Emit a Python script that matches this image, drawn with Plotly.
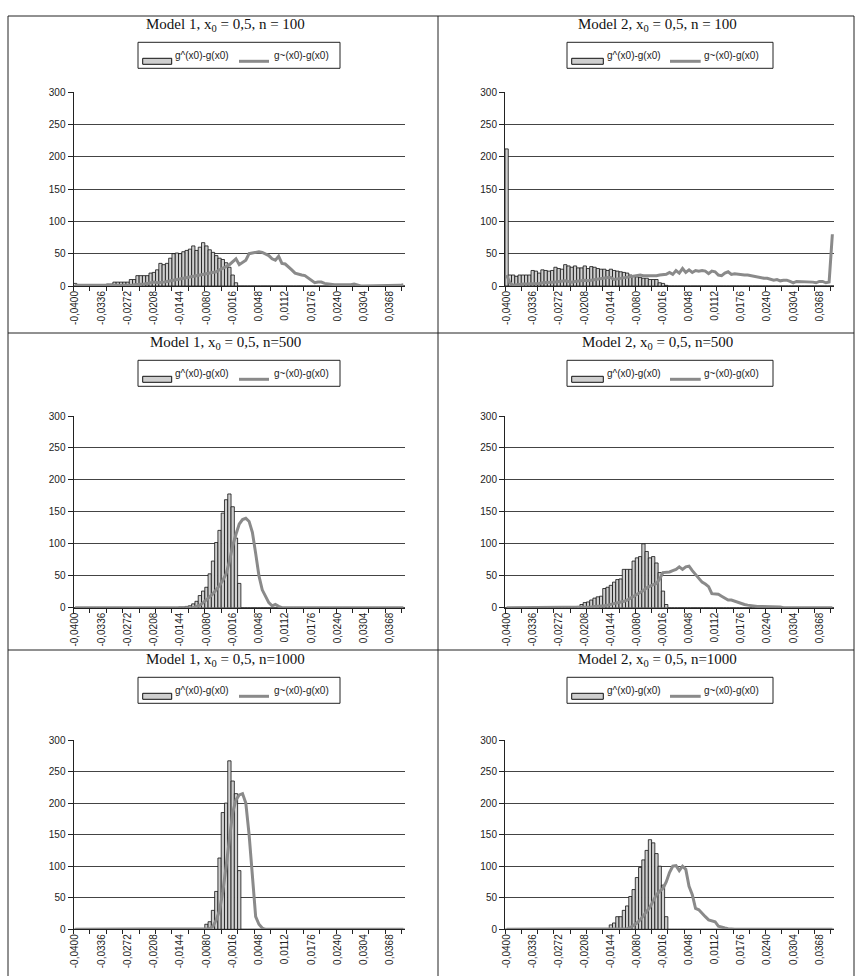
import plotly.graph_objects as go

W, H = 855, 976

# ---------------- data ----------------
categories = [round(-0.04 + 0.0008 * i, 4) for i in range(101)]
tick_values = [-0.04, -0.0336, -0.0272, -0.0208, -0.0144, -0.008, -0.0016,
               0.0048, 0.0112, 0.0176, 0.024, 0.0304, 0.0368]
tick_labels = ["-0,0400", "-0,0336", "-0,0272", "-0,0208", "-0,0144", "-0,0080", "-0,0016",
               "0,0048", "0,0112", "0,0176", "0,0240", "0,0304", "0,0368"]
mark_values = [round(-0.0404 + 0.004 * k, 4) for k in range(21)]

m1_n100_hat = ([4, 1, 1, 1, 1, 1, 1, 1, 1, 1,
                3, 3, 6, 6, 6, 6, 6, 10, 10, 16,
                16, 16, 16, 20, 21, 25, 35, 33, 35, 43,
                50, 51, 50, 53, 55, 57, 62, 55, 60, 67,
                62, 56, 52, 47, 43, 41, 36, 29, 17, 5] + [0] * 51)
m1_n100_til = ([1, 1, 0, 0, 0, 0, 0, 0, 0, 0,
                0, 0, 0, 0, 0, 1, 1, 1, 2, 2,
                3, 3, 4, 5, 6, 5, 5, 6, 7, 8,
                9, 9, 10, 11, 12, 13, 14, 15, 16, 17,
                18, 19, 20, 22, 25, 27, 30, 33, 37, 42,
                33, 36, 40, 50, 51, 53, 53, 52, 50, 47,
                42, 40, 46, 35, 34, 30, 25, 20, 18, 17,
                16, 12, 9, 5, 6, 6, 4, 3, 2, 2,
                2, 2, 2, 1, 2, 3, 1, 0, 0, 0,
                0, 0, 0, 0, 0, 0, 0, 0, 0, 1, 2])

m2_n100_hat = ([212, 17, 17, 15, 17, 17, 17, 17, 24, 23,
                20, 25, 24, 23, 24, 29, 27, 26, 33, 31,
                29, 31, 28, 28, 31, 27, 30, 29, 27, 26,
                26, 24, 26, 24, 23, 22, 21, 20, 17, 16,
                14, 13, 12, 12, 10, 10, 10, 5, 4, 1] + [0] * 51)
m2_n100_til = [17, 5, 1, 2, 3, 3, 3, 3, 4, 4,
               4, 5, 5, 6, 6, 6, 7, 8, 8, 7,
               6, 7, 8, 8, 9, 8, 9, 10, 10, 11,
               12, 13, 13, 10, 11, 12, 13, 14, 15, 16,
               17, 17, 16, 16, 15, 15, 16, 17, 17, 18,
               21, 18, 24, 20, 27, 21, 25, 21, 24, 23,
               24, 23, 19, 23, 22, 17, 16, 20, 22, 18,
               19, 18, 18, 17, 17, 16, 15, 13, 12, 12,
               12, 11, 9, 10, 8, 9, 9, 7, 5, 7,
               7, 7, 7, 6, 6, 5, 7, 7, 5, 6, 80]

m1_n500_hat = ([0] * 32 + [1, 1, 2, 3, 6, 10, 19, 26, 32, 53,
                           73, 102, 121, 148, 169, 178, 158, 109, 38] + [0] * 50)
m1_n500_til = ([0] * 37 + [2, 4, 8, 12, 17, 22, 28, 35, 43, 53,
                           72, 97, 115, 131, 138, 140, 135, 118, 85, 50,
                           28, 17, 8, 3, 5, 2] + [0] * 38)

m2_n500_hat = ([0] * 16 + [1, 1, 1, 1, 1, 1, 2, 5, 8, 9,
                           12, 15, 17, 18, 30, 32, 35, 40, 44, 45,
                           60, 60, 60, 73, 78, 80, 100, 88, 78, 80,
                           70, 55, 26, 5] + [0] * 51)
m2_n500_til = ([0] * 25 + [1, 1, 2, 2, 3, 3, 4, 5, 6, 8,
                           9, 10, 12, 15, 18, 20, 24, 27, 31, 34,
                           36, 38, 45, 55, 55, 56, 58, 60, 64, 60,
                           64, 65, 58, 52, 45, 40, 37, 33, 22, 21,
                           21, 18, 15, 12, 12, 10, 9, 6, 5, 4,
                           3, 2, 2, 2, 2, 2, 2, 1, 2, 1] + [0] * 16)

m1_n1000_hat = ([0] * 40 + [8, 12, 30, 60, 113, 185, 200, 267, 235, 215, 93] + [0] * 50)
m1_n1000_til = ([0] * 41 + [1, 5, 15, 30, 60, 100, 145, 185, 205, 213,
                            215, 200, 150, 80, 20, 8, 2] + [0] * 43)

m2_n1000_hat = ([0] * 32 + [7, 10, 20, 20, 30, 37, 52, 63, 82, 98,
                            110, 125, 142, 137, 120, 100, 70, 20] + [0] * 51)
m2_n1000_til = ([0] * 37 + [1, 3, 6, 10, 15, 22, 28, 35, 45, 55,
                            60, 65, 75, 90, 100, 101, 93, 100, 95, 68,
                            55, 33, 31, 25, 20, 15, 13, 12, 5, 3,
                            2, 1] + [0] * 32)

titles = ["Model 1, x<sub>0</sub> = 0,5, n = 100", "Model 2, x<sub>0</sub> = 0,5, n = 100",
          "Model 1, x<sub>0</sub> = 0,5, n=500", "Model 2, x<sub>0</sub> = 0,5, n=500",
          "Model 1, x<sub>0</sub> = 0,5, n=1000", "Model 2, x<sub>0</sub> = 0,5, n=1000"]
series_names = ["g^(x0)-g(x0)", "g~(x0)-g(x0)"]
panels = [(m1_n100_hat, m1_n100_til), (m2_n100_hat, m2_n100_til),
          (m1_n500_hat, m1_n500_til), (m2_n500_hat, m2_n500_til),
          (m1_n1000_hat, m1_n1000_til), (m2_n1000_hat, m2_n1000_til)]

# ---------------- layout geometry (pixels) ----------------
col_x = [(73.5, 405.0), (505.0, 834.0)]
row_y = [(92.0, 286.0), (416.0, 607.7), (740.0, 929.3)]
title_cx = [225, 657]
title_y = [25, 343, 660]
legend_top = [42.3, 360.3, 677.3]
legend_x = [dict(box=(138, 340), bar=(142.7, 171.7), t1=173, line=(239, 269), t2=272),
            dict(box=(567, 773), bar=(571.7, 603.3), t1=604.5, line=(670, 700.7), t2=702)]

def px(x):
    return x / W

def py(y):
    return 1 - y / H

fig = go.Figure()
shapes = []
annotations = []
FONT = "Liberation Sans, Arial, sans-serif"
SERIF = "Liberation Serif, Times New Roman, serif"
BAR_FILL = "#cfcfcf"
LINE_COL = "#8a8a8a"

for k, (hat, til) in enumerate(panels):
    r, c = divmod(k, 2)
    n = k + 1
    xa = "x" if n == 1 else f"x{n}"
    ya = "y" if n == 1 else f"y{n}"
    fig.add_trace(go.Bar(x=categories, y=hat, name=series_names[0], xaxis=xa, yaxis=ya,
                         marker=dict(color=BAR_FILL, line=dict(color="#111", width=0.8)),
                         showlegend=False))
    fig.add_trace(go.Scatter(x=categories, y=til, name=series_names[1], xaxis=xa, yaxis=ya,
                             mode="lines", line=dict(color=LINE_COL, width=3),
                             showlegend=False))
    x0, x1 = col_x[c]
    yt, yb = row_y[r]
    xkey = "xaxis" if n == 1 else f"xaxis{n}"
    ykey = "yaxis" if n == 1 else f"yaxis{n}"
    fig.layout[xkey] = dict(
        domain=[px(x0), px(x1)], anchor=ya, range=[-0.0404, 0.0404],
        tickmode="array", tickvals=tick_values, ticktext=tick_labels, ticks="",
        tickangle=-90, tickfont=dict(family=FONT, size=10, color="#222"),
        showline=True, linecolor="#222", linewidth=1, showgrid=False, zeroline=False,
        minor=dict(tickmode="array", tickvals=mark_values, ticks="outside", ticklen=4,
                   tickcolor="#222", tickwidth=1, showgrid=False),
        automargin=False, fixedrange=True)
    fig.layout[ykey] = dict(
        domain=[py(yb), py(yt)], anchor=xa, range=[0, 300], dtick=50, tick0=0,
        ticks="outside", ticklen=5, tickcolor="#222",
        tickfont=dict(family=FONT, size=10, color="#222"),
        showline=True, linecolor="#222", linewidth=1,
        showgrid=True, gridcolor="#444", gridwidth=1, zeroline=False,
        automargin=False, fixedrange=True)

    # title
    annotations.append(dict(x=px(title_cx[c]), y=py(title_y[r]), xref="paper", yref="paper",
                            xanchor="center", yanchor="middle",
                            text=titles[k], showarrow=False,
                            font=dict(family=SERIF, size=15, color="#111")))
    # legend
    L = legend_x[c]
    lt = legend_top[r]
    shapes.append(dict(type="rect", xref="paper", yref="paper",
                       x0=px(L["box"][0]), x1=px(L["box"][1]), y0=py(lt), y1=py(lt + 26),
                       line=dict(color="#222", width=1), fillcolor="white"))
    shapes.append(dict(type="rect", xref="paper", yref="paper",
                       x0=px(L["bar"][0]), x1=px(L["bar"][1]), y0=py(lt + 16), y1=py(lt + 22),
                       line=dict(color="#111", width=1), fillcolor=BAR_FILL))
    shapes.append(dict(type="line", xref="paper", yref="paper",
                       x0=px(L["line"][0]), x1=px(L["line"][1]), y0=py(lt + 19), y1=py(lt + 19),
                       line=dict(color=LINE_COL, width=3)))
    for tx, name in ((L["t1"], series_names[0]), (L["t2"], series_names[1])):
        annotations.append(dict(x=px(tx), y=py(lt + 13), xref="paper", yref="paper",
                                xanchor="left", yanchor="middle", text=name, showarrow=False,
                                font=dict(family=FONT, size=10, color="#222")))

# panel borders
border = dict(color="#222", width=1)
for (a, b, cc, d) in [(8, 16, 854, 16), (8, 16, 8, 976), (854, 16, 854, 976),
                      (438, 16, 438, 976), (8, 333, 854, 333), (8, 650, 854, 650)]:
    shapes.append(dict(type="line", xref="paper", yref="paper",
                       x0=px(a), y0=py(b), x1=px(cc), y1=py(d), line=border))

fig.update_layout(width=W, height=H, margin=dict(l=0, r=0, t=0, b=0, autoexpand=False),
                  paper_bgcolor="white", plot_bgcolor="white", bargap=0,
                  shapes=shapes, annotations=annotations, showlegend=False)

fig.write_html("out.html", config={"displayModeBar": False, "staticPlot": True},
               post_script="document.body.style.margin='0';document.body.style.overflow='hidden';")
